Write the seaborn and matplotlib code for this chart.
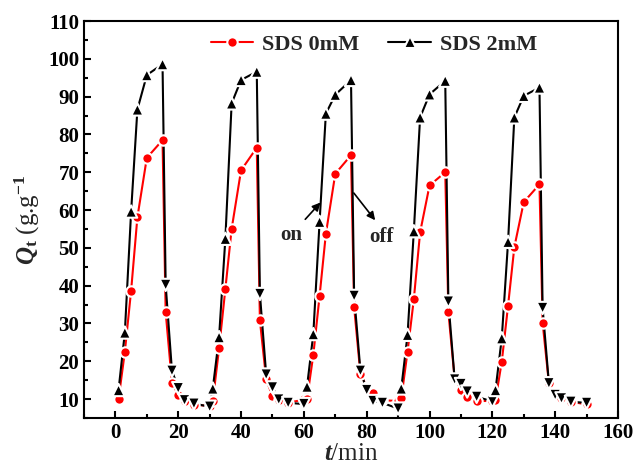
import matplotlib
matplotlib.use("Agg")
import matplotlib.pyplot as plt
import pandas as pd
import seaborn as sns
from matplotlib.lines import Line2D
from matplotlib.ticker import MultipleLocator

# ---- data ----
time_min = [1, 3, 5, 7, 10, 15, 16, 18, 20, 22, 25, 30,
            31, 33, 35, 37, 40, 45, 46, 48, 50, 52, 55, 60,
            61, 63, 65, 67, 70, 75, 76, 78, 80, 82, 85, 90,
            91, 93, 95, 97, 100, 105, 106, 108, 110, 112, 115, 120,
            121, 123, 125, 127, 130, 135, 136, 138, 140, 142, 145, 150]
phase = (["on"] * 6 + ["off"] * 6) * 5
q_sds_0mM = [10.0, 22.5, 38.7, 58.1, 73.8, 78.5, 33.0, 14.3, 11.1, 9.6, 8.5, 8.2,
             9.5, 23.4, 39.1, 55.0, 70.5, 76.5, 30.8, 15.2, 10.8, 9.7, 9.0, 9.9,
             10.1, 21.7, 37.3, 53.7, 69.6, 74.5, 34.3, 16.6, 13.3, 11.5, 9.7, 9.5,
             10.2, 22.5, 36.4, 54.1, 66.5, 70.0, 33.0, 15.3, 12.4, 10.6, 9.5, 9.5,
             9.7, 19.9, 34.7, 50.2, 62.1, 66.8, 30.2, 14.2, 11.8, 10.4, 9.3, 8.6]
q_sds_2mM = [12.4, 27.6, 59.6, 86.6, 95.7, 98.6, 40.2, 17.5, 12.9, 9.7, 8.8, 8.0,
             12.8, 26.4, 52.4, 88.2, 94.4, 96.6, 37.8, 16.5, 13.1, 9.9, 9.0, 8.7,
             13.3, 27.2, 56.9, 85.5, 90.5, 94.4, 37.3, 17.5, 12.4, 9.5, 9.0, 7.5,
             12.8, 27.0, 54.4, 84.5, 90.6, 94.2, 35.8, 15.2, 14.0, 12.0, 10.6, 9.4,
             12.4, 26.1, 51.6, 84.5, 90.2, 92.4, 34.1, 14.2, 11.1, 10.2, 9.3, 9.0]
series_labels = ["SDS 0mM", "SDS 2mM"]
x_ticks = [0, 20, 40, 60, 80, 100, 120, 140, 160]
y_ticks = [10, 20, 30, 40, 50, 60, 70, 80, 90, 100, 110]

df = pd.DataFrame({"t": time_min, "phase": phase,
                   "q0": q_sds_0mM, "q2": q_sds_2mM})

sns.set_theme(style="ticks")
plt.rcParams["font.family"] = ["Liberation Serif", "DejaVu Serif"]
plt.rcParams["font.weight"] = "bold"
plt.rcParams["mathtext.fontset"] = "custom"
plt.rcParams["mathtext.rm"] = "Liberation Serif:bold"
plt.rcParams["mathtext.it"] = "Liberation Serif:italic:bold"
plt.rcParams["mathtext.bf"] = "Liberation Serif:bold"

fig = plt.figure(figsize=(6.38, 4.68), dpi=100)
ax = fig.add_axes([84 / 638, 1 - 418 / 468, 534 / 638, 397 / 468])

lw = 1.5
halo = 1.5
sns.lineplot(data=df, x="t", y="q0", color="red", lw=lw, sort=False,
             estimator=None, ax=ax, legend=False)
sns.lineplot(data=df, x="t", y="q2", color="black", lw=lw, sort=False,
             estimator=None, ax=ax, legend=False)
sns.scatterplot(data=df, x="t", y="q0", color="red", marker="o", s=56,
                edgecolor="white", linewidth=halo, ax=ax, legend=False, zorder=3)
sns.scatterplot(data=df, x="t", y="q2", style="phase",
                markers={"on": "^", "off": "v"}, color="black", s=78,
                edgecolor="white", linewidth=halo, ax=ax, legend=False, zorder=4)

ax.set_xlim(-10, 160)
ax.set_ylim(5, 110)
ax.set_xticks(x_ticks)
ax.set_yticks(y_ticks)
ax.xaxis.set_minor_locator(MultipleLocator(10))
ax.yaxis.set_minor_locator(MultipleLocator(5))
ax.tick_params(which="both", direction="in", top=False, right=False,
               width=1.5, labelsize=15, colors="black")
ax.tick_params(which="major", length=5)
ax.tick_params(which="minor", length=3)
for lab in ax.get_xticklabels() + ax.get_yticklabels():
    lab.set_fontweight("bold")
for sp in ax.spines.values():
    sp.set_linewidth(1.5)
    sp.set_color("black")

ax.set_xlabel(r"$\mathit{t}$/min", fontsize=18, labelpad=0)
ax.set_ylabel(r"$\mathit{Q}_{\mathrm{t}}$ (g.g$^{\mathrm{-1}}$", fontsize=18, labelpad=4)

handles = [
    Line2D([], [], color="red", lw=lw, marker="o", ms=7.5, mec="white", mew=halo),
    Line2D([], [], color="black", lw=lw, marker="^", ms=8.8, mec="white", mew=halo),
]
ax.legend(handles, series_labels, loc="center", bbox_to_anchor=(0.543, 0.94),
          ncol=2, frameon=False, fontsize=16, handlelength=1.9,
          columnspacing=1.3, handletextpad=0.4, borderaxespad=0)

ax.annotate("on", xy=(65.3, 62.0), xytext=(56.0, 53.5), fontsize=15,
            fontweight="bold", ha="center", va="center",
            arrowprops=dict(arrowstyle="-|>", color="black", lw=1.2,
                            shrinkA=2, shrinkB=0, mutation_scale=12))
ax.annotate("", xy=(82.7, 57.3), xytext=(75.9, 64.5),
            arrowprops=dict(arrowstyle="-|>", color="black", lw=1.2,
                            shrinkA=0, shrinkB=0, mutation_scale=12))
ax.text(84.8, 53.0, "off", fontsize=15, fontweight="bold", ha="center", va="center")

fig.savefig("out.png", dpi=100)
